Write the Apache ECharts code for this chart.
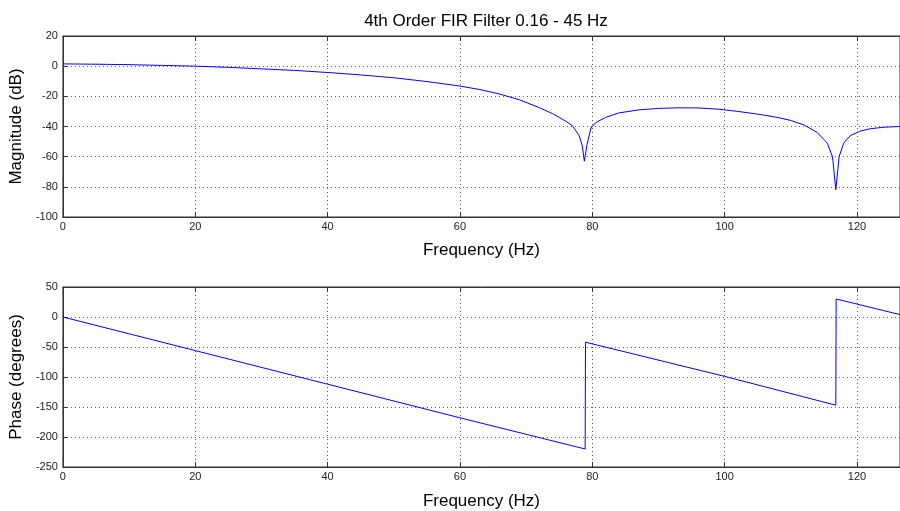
<!DOCTYPE html>
<html>
<head>
<meta charset="utf-8">
<script src="https://cdn.jsdelivr.net/npm/echarts@6/dist/echarts.min.js"></script>
<style>html,body{margin:0;padding:0;background:#fff}#c{width:900px;height:511px}</style>
</head>
<body>
<div id="c"></div>
<script>
const magFreq = [0,5,10,15,20,25,30,35,40,45,50,55,60,63,66,69,72,74,75,76,77,78,78.5,78.8,79.2,79.8,80.5,82,84,87,90,93,96,99,102,105,108,110,112,114,115.5,116.3,116.8,117.3,118,119,120.5,122,124,126.5];
const magDb = [1.5,1.3,1.0,0.5,0,-0.8,-1.8,-2.8,-4.2,-5.8,-7.7,-10.2,-13.2,-15.5,-18.5,-22.3,-27.5,-31.5,-34,-36.5,-39.5,-46,-53,-63,-52,-41,-37.5,-34,-31,-29,-28,-27.6,-27.7,-28.5,-30,-31.8,-34,-36,-39,-44,-51,-60,-82,-60,-51,-46,-43,-41.5,-40.5,-40];
const phaseFreq = [0,20,40,60,78.92,78.97,100,116.8,116.85,126.5];
const phaseDeg = [0,-56,-112,-168,-220,-42,-99,-147,30,4];
const xTicks = [0,20,40,60,80,100,120];
const magTicks = [-100,-80,-60,-40,-20,0,20];
const phaseTicks = [-250,-200,-150,-100,-50,0,50];

const font = 'Liberation Sans, Arial, sans-serif';
const pair = (xs, ys) => xs.map((x, i) => [x, ys[i]]);
const lbl = {color:'#222', fontSize:11, fontFamily:font};
function xAx(grid, gap){
  return {type:'value', gridIndex:grid, min:0, max:126.5, interval:20,
    axisLine:{show:true, onZero:false, lineStyle:{color:'#333'}},
    axisTick:{inside:true, length:5, lineStyle:{color:'#333'}},
    axisLabel:Object.assign({margin:4, showMaxLabel:false}, lbl),
    splitLine:{show:true, lineStyle:{color:'#555', type:[1,3], width:1}},
    name:'Frequency (Hz)', nameLocation:'middle', nameGap:gap,
    nameTextStyle:{color:'#000', fontSize:17, fontFamily:font}};
}
function xTop(grid){
  return {type:'value', gridIndex:grid, position:'top', min:0, max:126.5, interval:20,
    axisLine:{show:true, onZero:false, lineStyle:{color:'#333'}},
    axisTick:{inside:true, length:5, lineStyle:{color:'#333'}},
    axisLabel:{show:false}, splitLine:{show:false}};
}
function yAx(grid, min, max, interval, name){
  return {type:'value', gridIndex:grid, min:min, max:max, interval:interval,
    axisLine:{show:true, onZero:false, lineStyle:{color:'#333'}},
    axisTick:{inside:true, length:5, lineStyle:{color:'#333'}},
    axisLabel:Object.assign({margin:5}, lbl),
    splitLine:{show:true, lineStyle:{color:'#555', type:[1,3], width:1}},
    name:name, nameLocation:'middle', nameGap:27, nameRotate:90,
    nameTextStyle:{color:'#000', fontSize:17, fontFamily:font}};
}
const chart = echarts.init(document.getElementById('c'), null, {renderer:'canvas'});
chart.setOption({
  backgroundColor:'#fff',
  animation:false,
  title:{text:'4th Order FIR Filter 0.16 - 45 Hz', left:481, textAlign:'center', top:8,
    textStyle:{color:'#000', fontSize:17, fontWeight:'normal', fontFamily:font}},
  grid:[
    {left:61, top:36, height:181, right:0, show:true, borderColor:'#333', borderWidth:1},
    {left:61, top:287, height:183, right:0, show:true, borderColor:'#333', borderWidth:1}
  ],
  xAxis:[xAx(0,25), xAx(1,26), xTop(0), xTop(1)],
  yAxis:[yAx(0,-100,20,20,'Magnitude (dB)'), yAx(1,-250,50,50,'Phase (degrees)')],
  series:[
    {type:'line', xAxisIndex:0, yAxisIndex:0, data:pair(magFreq, magDb), showSymbol:false,
      lineStyle:{color:'#0000ff', width:1}},
    {type:'line', xAxisIndex:1, yAxisIndex:1, data:pair(phaseFreq, phaseDeg), showSymbol:false,
      lineStyle:{color:'#0000ff', width:1}}
  ]
});
</script>
</body>
</html>
